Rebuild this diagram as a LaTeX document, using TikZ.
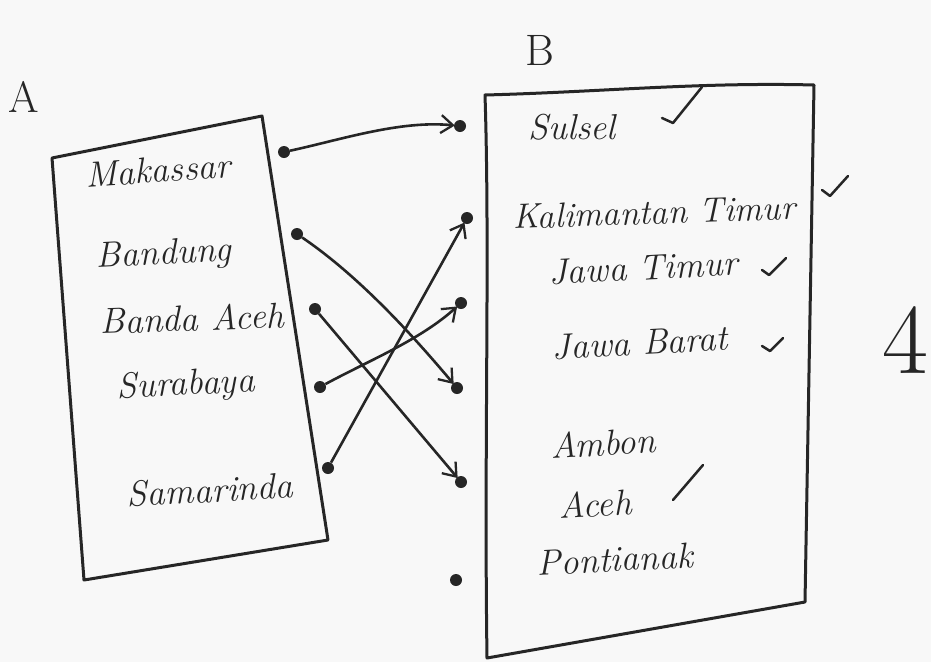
\documentclass[tikz,border=0pt]{standalone}
\usetikzlibrary{arrows.meta}
\definecolor{ink}{HTML}{262626}
\definecolor{paper}{HTML}{F8F8F8}
\begin{document}
\begin{tikzpicture}[x=1pt,y=-1pt,
  ink line/.style={draw=ink,line width=3pt,line join=round,line cap=round},
  hand/.style={text=ink,inner sep=0pt,font=\fontsize{36}{38}\selectfont\itshape},
  dot/.style={circle,fill=ink,inner sep=0pt,minimum size=12pt},
  map/.style={draw=ink,line width=2.6pt,-{Straight Barb[length=12pt,width=18pt,line width=2.3pt]},shorten >=-1pt},
  tick/.style={draw=ink,line width=2.5pt,line cap=round,line join=round}]
  % page
  \fill[paper] (0,0) rectangle (931,662);
  \useasboundingbox (0,0) rectangle (931,662);

  % set labels
  \node[hand,font=\fontsize{44}{46}\selectfont] (lA) at (24,97) {A};
  \node[hand,font=\fontsize{44}{46}\selectfont] (lB) at (540,50) {B};
  \node[hand,font=\fontsize{100}{102}\selectfont\upshape] (four) at (905,340) {4};

  % frames of the two sets
  \draw[ink line] (52,158) -- (262,116) -- (328,540) -- (84,580) -- cycle;
  \draw[ink line] (485,95) .. controls (600,92) and (700,82) .. (814,85)
                  -- (805,602) -- (487,658) .. controls (484,450) and (490,250) .. cycle;

  % domain
  \node[hand,rotate=4]  (mks) at (158,170) {Makassar};
  \node[hand,rotate=3]  (bdg) at (164,255) {Bandung};
  \node[hand,rotate=2]  (bna) at (192,318) {Banda Aceh};
  \node[hand,rotate=3]  (sby) at (186,386) {Surabaya};
  \node[hand,rotate=3]  (smr) at (210,490) {Samarinda};

  % codomain
  \node[hand] (sul) at (572,127) {Sulsel};
  \node[hand,rotate=2,font=\fontsize{35}{37}\selectfont\itshape] (kal) at (654,212) {Kalimantan Timur};
  \node[hand,rotate=3] (jtm) at (643,268) {Jawa Timur};
  \node[hand,rotate=3] (jbr) at (640,343) {Jawa Barat};
  \node[hand,rotate=3] (amb) at (603,443) {Ambon};
  \node[hand,rotate=3] (ach) at (595,504) {Aceh};
  \node[hand,rotate=3] (ptk) at (615,559) {Pontianak};

  % ticks
  \draw[tick] (662,118) -- (673,123) -- (702,87);
  \draw[tick] (822,190) -- (830,196) -- (848,176);
  \draw[tick] (762,270) -- (769,275) -- (786,258);
  \draw[tick] (762,346) -- (770,351) -- (783,338);
  \draw[tick] (673,500) -- (703,465);

  % points of A
  \node[dot] (a1) at (284,152) {};
  \node[dot] (a2) at (297,234) {};
  \node[dot] (a3) at (315,309) {};
  \node[dot] (a4) at (320,387) {};
  \node[dot] (a5) at (328,468) {};

  % points of B
  \node[dot] (b1) at (460,126) {};
  \node[dot] (b2) at (467,218) {};
  \node[dot] (b3) at (461,303) {};
  \node[dot] (b4) at (457,388) {};
  \node[dot] (b5) at (461,482) {};
  \node[dot] (b6) at (456,580) {};

  % mapping
  \draw[map] (a1) .. controls (340,140) and (400,120) .. (b1);
  \draw[map] (a2) .. controls (350,270) and (400,320) .. (b4);
  \draw[map] (a3) -- (b5);
  \draw[map] (a4) .. controls (370,360) and (420,340) .. (b3);
  \draw[map] (a5) -- (b2);
\end{tikzpicture}
\end{document}
